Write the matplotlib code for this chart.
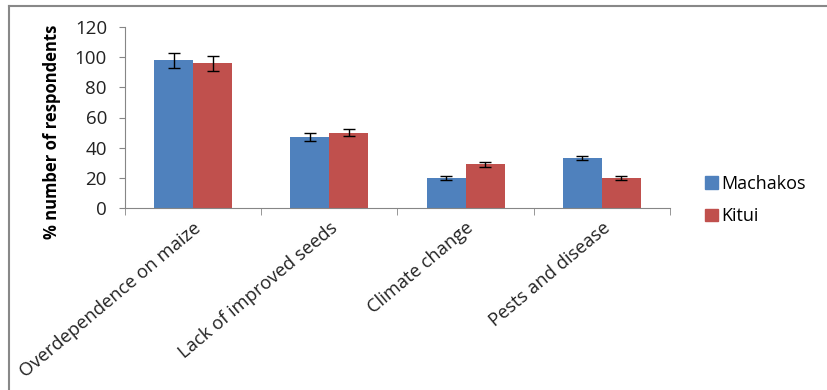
import matplotlib
matplotlib.use("Agg")
import matplotlib.pyplot as plt
import numpy as np
from matplotlib.lines import Line2D
from matplotlib.patches import Patch

categories = ["Overdependence on maize", "Lack of improved seeds", "Climate change", "Pests and disease"]
machakos = [98, 47, 20, 33]
machakos_err = [5, 2.5, 1.5, 1.5]
kitui = [96, 50, 29, 20]
kitui_err = [5, 2.5, 1.5, 1.5]
yticks = [0, 20, 40, 60, 80, 100, 120]

plt.rcParams['font.family'] = ['Open Sans', 'DejaVu Sans']

fig = plt.figure(figsize=(8.28, 3.90), dpi=100)
ax = fig.add_axes([125/828, 1-208/390, (670-125)/828, (208-27)/390])

x = np.arange(len(categories))
w = 0.287
blue = "#4F81BD"
red = "#C0504D"
ax.bar(x - w/2, machakos, w, color=blue, yerr=machakos_err, capsize=4.3,
       error_kw=dict(ecolor="black", elinewidth=1, capthick=1))
ax.bar(x + w/2, kitui, w, color=red, yerr=kitui_err, capsize=4.3,
       error_kw=dict(ecolor="black", elinewidth=1, capthick=1))

ax.set_xlim(-0.5, len(categories) - 0.5)
ax.set_ylim(0, 120)
ax.set_yticks(yticks)
ax.tick_params(axis='y', labelsize=13.5, length=4, color="#868686", pad=9, labelcolor="#222222")
ax.set_xticks(x)
ax.set_xticklabels(categories, rotation=40, ha='right', rotation_mode='anchor', fontsize=13.2,
                   color="#222222")
ax.tick_params(axis='x', which='major', length=0, pad=8)
ax.set_xticks(np.arange(-0.5, len(categories) + 0.5, 1), minor=True)
ax.tick_params(axis='x', which='minor', length=5, color="#868686")
for s in ["top", "right"]:
    ax.spines[s].set_visible(False)
for s in ["left", "bottom"]:
    ax.spines[s].set_color("#868686")
ax.set_ylabel("% number of respondents", fontsize=12, fontweight='bold')
ax.yaxis.set_label_coords(-0.118, 0.42)

handles = [Patch(color=blue), Patch(color=red)]
fig.legend(handles, ["Machakos", "Kitui"], loc='center left', bbox_to_anchor=(698/828, 1-200/390),
           frameon=False, fontsize=13, handlelength=0.7, handleheight=0.7, handletextpad=0.2,
           labelspacing=0.8, borderaxespad=0)

fig.add_artist(Line2D([9/828, 9/828], [0, 1-6/390], color="#888888", lw=1.5, transform=fig.transFigure))
fig.add_artist(Line2D([9/828, 1], [1-6/390, 1-6/390], color="#888888", lw=1.5, transform=fig.transFigure))

fig.savefig("out.png", dpi=100)
